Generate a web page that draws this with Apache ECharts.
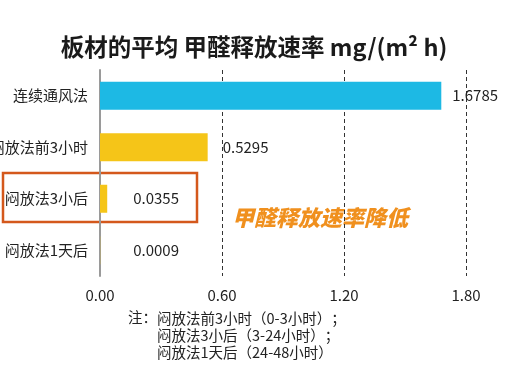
<!DOCTYPE html>
<html><head><meta charset="utf-8">
<script src="https://cdn.jsdelivr.net/npm/echarts@6/dist/echarts.min.js"></script>
<style>html,body{margin:0;padding:0;background:#fff}#c{width:508px;height:377px}</style>
</head><body><div id="c"></div>
<script>
const categories = ['连续通风法', '闷放法前3小时', '闷放法3小后', '闷放法1天后'];
const values = [1.6785, 0.5295, 0.0355, 0.0009];
const valueLabels = ['1.6785', '0.5295', '0.0355', '0.0009'];
const xTicks = [0, 0.6, 1.2, 1.8];
const titleText = '板材的平均 甲醛释放速率 mg/(m² h)';
const noteHead = '注：';
const noteLines = ['闷放法前3小时（0-3小时）；', '闷放法3小后（3-24小时）；', '闷放法1天后（24-48小时）'];
const calloutText = '甲醛释放速率降低';

const FONT = '"Noto Sans CJK SC", "Noto Sans", sans-serif';
const barColors = ['#1DB9E4', '#F5C518', '#F5C518', '#F5C518'];
const labelDist = [11, 15, 26, 33];

const chart = echarts.init(document.getElementById('c'), null, {renderer: 'canvas'});
chart.setOption({
  animation: false,
  backgroundColor: '#fff',
  title: {
    text: titleText, left: 'center', top: 30,
    textStyle: {fontFamily: FONT, fontSize: 23.5, fontWeight: 'bold', color: '#1a1a1a'}
  },
  grid: {left: 100, right: 42, top: 70, bottom: 101, outerBoundsMode: 'none', containLabel: false},
  xAxis: {
    type: 'value', min: xTicks[0], max: xTicks[xTicks.length - 1], interval: 0.6,
    axisLine: {show: false}, axisTick: {show: false},
    axisLabel: {margin: 12, fontFamily: FONT, fontSize: 15, color: '#222',
      formatter: v => v.toFixed(2)},
    splitLine: {show: true, lineStyle: {type: [4, 3], color: '#333', width: 1}}
  },
  yAxis: {
    type: 'category', data: categories, inverse: true,
    axisLine: {show: true, lineStyle: {color: '#9a9a9a', width: 2}},
    axisTick: {show: false},
    axisLabel: {margin: 12, fontFamily: FONT, fontSize: 15, color: '#222'}
  },
  series: [{
    type: 'bar', barWidth: 28,
    data: values.map((v, i) => ({
      value: v,
      itemStyle: {color: barColors[i]},
      label: {show: true, position: 'right', distance: labelDist[i],
        formatter: () => valueLabels[i],
        fontFamily: FONT, fontSize: 15, color: '#222'}
    }))
  }],
  graphic: [
    {type: 'rect', shape: {x: 3, y: 173, width: 194, height: 49},
      style: {fill: 'none', stroke: '#D4581C', lineWidth: 2.5}},
    {type: 'text', x: 232, y: 207, style: {text: calloutText, fill: '#F0901E',
      font: 'italic 900 22px ' + FONT}},
    {type: 'text', x: 128, y: 310, style: {text: noteHead, fill: '#222',
      font: '14.5px ' + FONT}},
    {type: 'text', x: 157, y: 310, style: {text: noteLines.join('\n'), fill: '#222',
      font: '14.5px ' + FONT, lineHeight: 17}}
  ]
});
</script></body></html>
